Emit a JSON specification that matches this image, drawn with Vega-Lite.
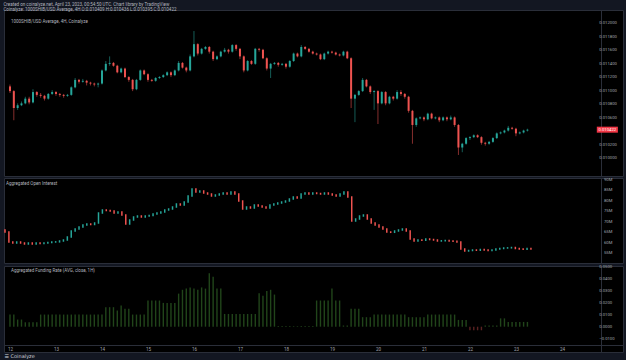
{
"$schema": "https://vega.github.io/schema/vega-lite/v6.json",
"background": "#131722",
"padding": {"left": 3, "right": 4, "top": 1, "bottom": 1},
"spacing": 0,
"title": {"text": ["Created on coinalyze.net, April 23, 2023, 00:54:50 UTC. Chart library by TradingView", "Coinalyze: 1000SHIB/USD Average, 4H  O:0.010409 H:0.010436 L:0.010395 C:0.010422"], "anchor": "start", "frame": "bounds", "fontSize": 4.5, "lineHeight": 5, "color": "#b2b5be", "font": "Roboto", "fontWeight": "normal", "offset": -1.5},
"config": {
  "view": {"fill": "#000000", "stroke": "#2a2e39", "strokeWidth": 1},
  "axis": {"labelFont": "Roboto", "labelColor": "#a3a6af", "domainColor": "#2a2e39", "ticks": false, "grid": false, "title": null, "labelOverlap": false},
  "text": {"font": "Roboto", "fontSize": 4.5, "color": "#b2b5be", "align": "left", "baseline": "top"}
},
"datasets": {"d": [
{"t":0,"o":0.011065,"h":0.011093,"l":0.010967,"c":0.010995,"oo":66.10,"oc":65.14,"f":0.0102},
{"t":2,"o":0.010995,"h":0.011009,"l":0.010562,"c":0.010744,"oo":65.14,"oc":60.38,"f":0.0102},
{"t":4,"o":0.010744,"h":0.010813,"l":0.010716,"c":0.010785,"oo":60.38,"oc":59.90,"f":0.006},
{"t":6,"o":0.010785,"h":0.010841,"l":0.010772,"c":0.010813,"oo":59.90,"oc":60.38,"f":0.006},
{"t":8,"o":0.010813,"h":0.010911,"l":0.010799,"c":0.010883,"oo":60.38,"oc":59.90,"f":0.0037},
{"t":10,"o":0.010883,"h":0.010911,"l":0.010799,"c":0.010827,"oo":59.90,"oc":59.43,"f":0.0037},
{"t":12,"o":0.010827,"h":0.011023,"l":0.010813,"c":0.010981,"oo":59.43,"oc":59.90,"f":0.0037},
{"t":14,"o":0.010981,"h":0.010995,"l":0.010911,"c":0.010939,"oo":59.90,"oc":59.43,"f":0.0037},
{"t":16,"o":0.010939,"h":0.010967,"l":0.010897,"c":0.010925,"oo":59.43,"oc":59.90,"f":0.0102},
{"t":18,"o":0.010925,"h":0.010939,"l":0.010855,"c":0.010883,"oo":59.90,"oc":59.67,"f":0.0102},
{"t":20,"o":0.010883,"h":0.010967,"l":0.010869,"c":0.010953,"oo":59.67,"oc":59.90,"f":0.0102},
{"t":22,"o":0.010953,"h":0.011009,"l":0.010939,"c":0.010981,"oo":59.90,"oc":60.14,"f":0.0102},
{"t":24,"o":0.010981,"h":0.010995,"l":0.010925,"c":0.010953,"oo":60.14,"oc":60.38,"f":0.0102},
{"t":26,"o":0.010953,"h":0.010967,"l":0.010911,"c":0.010939,"oo":60.38,"oc":60.45,"f":0.0102},
{"t":28,"o":0.010939,"h":0.010953,"l":0.010897,"c":0.010925,"oo":60.45,"oc":60.86,"f":0.0102},
{"t":30,"o":0.010925,"h":0.010953,"l":0.010911,"c":0.010939,"oo":60.86,"oc":61.33,"f":0.0102},
{"t":32,"o":0.010939,"h":0.011065,"l":0.010925,"c":0.011051,"oo":61.33,"oc":62.76,"f":0.0102},
{"t":34,"o":0.011051,"h":0.011190,"l":0.011037,"c":0.011162,"oo":62.76,"oc":65.62,"f":0.0102},
{"t":36,"o":0.011162,"h":0.011176,"l":0.011107,"c":0.011134,"oo":65.62,"oc":66.57,"f":0.0102},
{"t":38,"o":0.011134,"h":0.011176,"l":0.011121,"c":0.011148,"oo":66.57,"oc":67.52,"f":0.0102},
{"t":40,"o":0.011148,"h":0.011162,"l":0.011079,"c":0.011121,"oo":67.52,"oc":68.48,"f":0.0102},
{"t":42,"o":0.011121,"h":0.011134,"l":0.011079,"c":0.011107,"oo":68.48,"oc":68.95,"f":0.0102},
{"t":44,"o":0.011107,"h":0.011121,"l":0.011065,"c":0.011093,"oo":68.95,"oc":68.71,"f":0.0102},
{"t":46,"o":0.011093,"h":0.011121,"l":0.011051,"c":0.011107,"oo":68.71,"oc":69.43,"f":0.0102},
{"t":48,"o":0.011107,"h":0.011316,"l":0.011093,"c":0.011302,"oo":69.43,"oc":74.19,"f":0.0102},
{"t":50,"o":0.011302,"h":0.011442,"l":0.011288,"c":0.011400,"oo":74.19,"oc":75.62,"f":0.0164},
{"t":52,"o":0.011400,"h":0.011511,"l":0.011372,"c":0.011414,"oo":75.62,"oc":75.38,"f":0.0164},
{"t":54,"o":0.011414,"h":0.011428,"l":0.011358,"c":0.011372,"oo":75.38,"oc":75.14,"f":0.0164},
{"t":56,"o":0.011372,"h":0.011386,"l":0.011260,"c":0.011274,"oo":75.14,"oc":74.19,"f":0.0136},
{"t":58,"o":0.011274,"h":0.011344,"l":0.011260,"c":0.011330,"oo":74.19,"oc":74.67,"f":0.0178},
{"t":60,"o":0.011330,"h":0.011344,"l":0.011190,"c":0.011204,"oo":74.67,"oc":73.24,"f":0.015},
{"t":62,"o":0.011204,"h":0.011218,"l":0.011134,"c":0.011162,"oo":73.24,"oc":68.95,"f":0.015},
{"t":64,"o":0.011162,"h":0.011176,"l":0.010995,"c":0.011023,"oo":68.95,"oc":70.86,"f":0.0102},
{"t":66,"o":0.011023,"h":0.011176,"l":0.011009,"c":0.011162,"oo":70.86,"oc":72.29,"f":0.0102},
{"t":68,"o":0.011162,"h":0.011316,"l":0.011148,"c":0.011302,"oo":72.29,"oc":72.76,"f":0.0102},
{"t":70,"o":0.011302,"h":0.011316,"l":0.011232,"c":0.011246,"oo":72.76,"oc":72.29,"f":0.0102},
{"t":72,"o":0.011246,"h":0.011260,"l":0.011134,"c":0.011162,"oo":72.29,"oc":72.76,"f":0.022},
{"t":74,"o":0.011162,"h":0.011176,"l":0.011134,"c":0.011148,"oo":72.76,"oc":73.00,"f":0.022},
{"t":76,"o":0.011148,"h":0.011204,"l":0.011134,"c":0.011190,"oo":73.00,"oc":73.71,"f":0.022},
{"t":78,"o":0.011190,"h":0.011218,"l":0.011176,"c":0.011204,"oo":73.71,"oc":74.19,"f":0.022},
{"t":80,"o":0.011204,"h":0.011246,"l":0.011190,"c":0.011232,"oo":74.19,"oc":74.67,"f":0.020},
{"t":82,"o":0.011232,"h":0.011288,"l":0.011218,"c":0.011274,"oo":74.67,"oc":75.62,"f":0.020},
{"t":84,"o":0.011274,"h":0.011288,"l":0.011204,"c":0.011232,"oo":75.62,"oc":76.10,"f":0.020},
{"t":86,"o":0.011232,"h":0.011316,"l":0.011218,"c":0.011302,"oo":76.10,"oc":77.05,"f":0.020},
{"t":88,"o":0.011302,"h":0.011442,"l":0.011288,"c":0.011414,"oo":77.05,"oc":78.48,"f":0.0278},
{"t":90,"o":0.011414,"h":0.011428,"l":0.011330,"c":0.011344,"oo":78.48,"oc":78.00,"f":0.031},
{"t":92,"o":0.011344,"h":0.011358,"l":0.011274,"c":0.011302,"oo":78.00,"oc":79.43,"f":0.032},
{"t":94,"o":0.011302,"h":0.011539,"l":0.011288,"c":0.011511,"oo":79.43,"oc":82.29,"f":0.033},
{"t":96,"o":0.011511,"h":0.011888,"l":0.011497,"c":0.011693,"oo":82.29,"oc":85.62,"f":0.032},
{"t":98,"o":0.011693,"h":0.011707,"l":0.011525,"c":0.011553,"oo":85.62,"oc":84.19,"f":0.031},
{"t":100,"o":0.011553,"h":0.011637,"l":0.011539,"c":0.011623,"oo":84.19,"oc":84.67,"f":0.033},
{"t":102,"o":0.011623,"h":0.011665,"l":0.011609,"c":0.011651,"oo":84.67,"oc":83.71,"f":0.032},
{"t":104,"o":0.011651,"h":0.011665,"l":0.011553,"c":0.011581,"oo":83.71,"oc":83.24,"f":0.045},
{"t":106,"o":0.011581,"h":0.011595,"l":0.011442,"c":0.011470,"oo":83.24,"oc":82.29,"f":0.042},
{"t":108,"o":0.011470,"h":0.011525,"l":0.011456,"c":0.011511,"oo":82.29,"oc":82.76,"f":0.032},
{"t":110,"o":0.011511,"h":0.011595,"l":0.011497,"c":0.011581,"oo":82.76,"oc":83.24,"f":0.032},
{"t":112,"o":0.011581,"h":0.011637,"l":0.011567,"c":0.011609,"oo":83.24,"oc":83.71,"f":0.0107},
{"t":114,"o":0.011609,"h":0.011623,"l":0.011553,"c":0.011581,"oo":83.71,"oc":83.24,"f":0.0107},
{"t":116,"o":0.011581,"h":0.011693,"l":0.011567,"c":0.011679,"oo":83.24,"oc":84.19,"f":0.0107},
{"t":118,"o":0.011679,"h":0.011693,"l":0.011595,"c":0.011623,"oo":84.19,"oc":83.24,"f":0.0107},
{"t":120,"o":0.011623,"h":0.011637,"l":0.011470,"c":0.011511,"oo":83.24,"oc":79.90,"f":0.0107},
{"t":122,"o":0.011511,"h":0.011525,"l":0.011274,"c":0.011302,"oo":79.90,"oc":76.10,"f":0.0107},
{"t":124,"o":0.011302,"h":0.011456,"l":0.011288,"c":0.011442,"oo":76.10,"oc":77.05,"f":0.0107},
{"t":126,"o":0.011442,"h":0.011456,"l":0.011386,"c":0.011400,"oo":77.05,"oc":76.57,"f":0.0107},
{"t":128,"o":0.011400,"h":0.011637,"l":0.011386,"c":0.011623,"oo":76.57,"oc":78.00,"f":0.0107},
{"t":130,"o":0.011623,"h":0.011637,"l":0.011581,"c":0.011609,"oo":78.00,"oc":77.52,"f":0.028},
{"t":132,"o":0.011609,"h":0.011623,"l":0.011470,"c":0.011483,"oo":77.52,"oc":77.05,"f":0.026},
{"t":134,"o":0.011483,"h":0.011497,"l":0.011302,"c":0.011330,"oo":77.05,"oc":76.57,"f":0.030},
{"t":136,"o":0.011330,"h":0.011414,"l":0.011190,"c":0.011400,"oo":76.57,"oc":78.00,"f":0.031},
{"t":138,"o":0.011400,"h":0.011428,"l":0.011386,"c":0.011414,"oo":78.00,"oc":78.48,"f":0.027},
{"t":140,"o":0.011414,"h":0.011428,"l":0.011358,"c":0.011386,"oo":78.48,"oc":78.95,"f":0.0005},
{"t":142,"o":0.011386,"h":0.011414,"l":0.011372,"c":0.011400,"oo":78.95,"oc":79.43,"f":0.0005},
{"t":144,"o":0.011400,"h":0.011414,"l":0.011330,"c":0.011358,"oo":79.43,"oc":79.90,"f":0.0005},
{"t":146,"o":0.011358,"h":0.011456,"l":0.011344,"c":0.011442,"oo":79.90,"oc":80.86,"f":0.0005},
{"t":148,"o":0.011442,"h":0.011567,"l":0.011428,"c":0.011553,"oo":80.86,"oc":81.81,"f":0.0005},
{"t":150,"o":0.011553,"h":0.011567,"l":0.011497,"c":0.011511,"oo":81.81,"oc":81.33,"f":0.0005},
{"t":152,"o":0.011511,"h":0.011679,"l":0.011497,"c":0.011651,"oo":81.33,"oc":83.24,"f":0.0005},
{"t":154,"o":0.011651,"h":0.011665,"l":0.011609,"c":0.011623,"oo":83.24,"oc":83.71,"f":0.0005},
{"t":156,"o":0.011623,"h":0.011637,"l":0.011567,"c":0.011581,"oo":83.71,"oc":83.24,"f":0.0005},
{"t":158,"o":0.011581,"h":0.011595,"l":0.011539,"c":0.011553,"oo":83.24,"oc":83.71,"f":0.0005},
{"t":160,"o":0.011553,"h":0.011567,"l":0.011525,"c":0.011539,"oo":83.71,"oc":83.48,"f":0.022},
{"t":162,"o":0.011539,"h":0.011553,"l":0.011456,"c":0.011470,"oo":83.48,"oc":83.24,"f":0.022},
{"t":164,"o":0.011470,"h":0.011567,"l":0.011456,"c":0.011553,"oo":83.24,"oc":83.71,"f":0.022},
{"t":166,"o":0.011553,"h":0.011595,"l":0.011539,"c":0.011581,"oo":83.71,"oc":83.24,"f":0.022},
{"t":168,"o":0.011581,"h":0.011595,"l":0.011553,"c":0.011567,"oo":83.24,"oc":82.76,"f":0.032},
{"t":170,"o":0.011567,"h":0.011581,"l":0.011525,"c":0.011539,"oo":82.76,"oc":82.29,"f":0.022},
{"t":172,"o":0.011539,"h":0.011553,"l":0.011511,"c":0.011525,"oo":82.29,"oc":83.24,"f":0.022},
{"t":174,"o":0.011525,"h":0.011595,"l":0.011511,"c":0.011581,"oo":83.24,"oc":84.19,"f":0.001},
{"t":176,"o":0.011581,"h":0.011595,"l":0.011470,"c":0.011483,"oo":84.19,"oc":81.81,"f":0.001},
{"t":178,"o":0.011483,"h":0.011497,"l":0.010744,"c":0.010883,"oo":81.81,"oc":70.38,"f":0.015},
{"t":180,"o":0.010883,"h":0.010953,"l":0.010534,"c":0.010939,"oo":70.38,"oc":71.33,"f":0.015},
{"t":182,"o":0.010939,"h":0.011009,"l":0.010925,"c":0.010995,"oo":71.33,"oc":72.76,"f":0.015},
{"t":184,"o":0.010995,"h":0.011190,"l":0.010981,"c":0.011162,"oo":72.76,"oc":73.24,"f":0.008},
{"t":186,"o":0.011162,"h":0.011176,"l":0.011051,"c":0.011065,"oo":73.24,"oc":71.33,"f":0.008},
{"t":188,"o":0.011065,"h":0.011079,"l":0.010953,"c":0.010981,"oo":71.33,"oc":69.43,"f":0.008},
{"t":190,"o":0.010981,"h":0.011009,"l":0.010716,"c":0.010995,"oo":69.43,"oc":68.48,"f":0.0102},
{"t":192,"o":0.010995,"h":0.011009,"l":0.010506,"c":0.010813,"oo":68.48,"oc":67.52,"f":0.0102},
{"t":194,"o":0.010813,"h":0.010995,"l":0.010799,"c":0.010981,"oo":67.52,"oc":66.57,"f":0.0102},
{"t":196,"o":0.010981,"h":0.010995,"l":0.010785,"c":0.010813,"oo":66.57,"oc":65.14,"f":0.0102},
{"t":198,"o":0.010813,"h":0.010925,"l":0.010799,"c":0.010911,"oo":65.14,"oc":65.00,"f":0.0102},
{"t":200,"o":0.010911,"h":0.010925,"l":0.010855,"c":0.010883,"oo":65.00,"oc":65.62,"f":0.0102},
{"t":202,"o":0.010883,"h":0.011009,"l":0.010869,"c":0.010981,"oo":65.62,"oc":66.10,"f":0.0102},
{"t":204,"o":0.010981,"h":0.011009,"l":0.010925,"c":0.010953,"oo":66.10,"oc":66.57,"f":0.0102},
{"t":206,"o":0.010953,"h":0.010967,"l":0.010883,"c":0.010911,"oo":66.57,"oc":65.62,"f":0.0102},
{"t":208,"o":0.010911,"h":0.010925,"l":0.010674,"c":0.010702,"oo":65.62,"oc":61.81,"f":0.008},
{"t":210,"o":0.010702,"h":0.010716,"l":0.010213,"c":0.010492,"oo":61.81,"oc":60.86,"f":0.008},
{"t":212,"o":0.010492,"h":0.010604,"l":0.010464,"c":0.010590,"oo":60.86,"oc":61.33,"f":0.008},
{"t":214,"o":0.010590,"h":0.010618,"l":0.010576,"c":0.010604,"oo":61.33,"oc":61.20,"f":0.008},
{"t":216,"o":0.010604,"h":0.010618,"l":0.010548,"c":0.010576,"oo":61.20,"oc":61.81,"f":0.008},
{"t":218,"o":0.010576,"h":0.010674,"l":0.010562,"c":0.010660,"oo":61.81,"oc":61.57,"f":0.0102},
{"t":220,"o":0.010660,"h":0.010674,"l":0.010576,"c":0.010590,"oo":61.57,"oc":61.33,"f":0.0102},
{"t":222,"o":0.010590,"h":0.010618,"l":0.010576,"c":0.010604,"oo":61.33,"oc":60.86,"f":0.0102},
{"t":224,"o":0.010604,"h":0.010618,"l":0.010534,"c":0.010562,"oo":60.86,"oc":60.95,"f":0.0102},
{"t":226,"o":0.010562,"h":0.010618,"l":0.010548,"c":0.010604,"oo":60.95,"oc":61.10,"f":0.0102},
{"t":228,"o":0.010604,"h":0.010618,"l":0.010548,"c":0.010576,"oo":61.10,"oc":60.86,"f":0.0102},
{"t":230,"o":0.010576,"h":0.010632,"l":0.010562,"c":0.010604,"oo":60.86,"oc":60.75,"f":0.0102},
{"t":232,"o":0.010604,"h":0.010618,"l":0.010464,"c":0.010492,"oo":60.75,"oc":60.38,"f":0.0102},
{"t":234,"o":0.010492,"h":0.010506,"l":0.010046,"c":0.010157,"oo":60.38,"oc":57.05,"f":0.0057},
{"t":236,"o":0.010157,"h":0.010227,"l":0.010087,"c":0.010213,"oo":57.05,"oc":56.10,"f":0.0057},
{"t":238,"o":0.010213,"h":0.010311,"l":0.010199,"c":0.010297,"oo":56.10,"oc":56.33,"f":0.0057},
{"t":240,"o":0.010297,"h":0.010325,"l":0.010269,"c":0.010311,"oo":56.33,"oc":56.57,"f":-0.003},
{"t":242,"o":0.010311,"h":0.010353,"l":0.010297,"c":0.010339,"oo":56.57,"oc":56.45,"f":-0.003},
{"t":244,"o":0.010339,"h":0.010353,"l":0.010297,"c":0.010311,"oo":56.45,"oc":56.81,"f":-0.003},
{"t":246,"o":0.010311,"h":0.010325,"l":0.010199,"c":0.010227,"oo":56.81,"oc":56.57,"f":-0.003},
{"t":248,"o":0.010227,"h":0.010241,"l":0.010185,"c":0.010213,"oo":56.57,"oc":56.33,"f":0.001},
{"t":250,"o":0.010213,"h":0.010255,"l":0.010199,"c":0.010241,"oo":56.33,"oc":56.57,"f":0.001},
{"t":252,"o":0.010241,"h":0.010311,"l":0.010227,"c":0.010297,"oo":56.57,"oc":57.05,"f":0.001},
{"t":254,"o":0.010297,"h":0.010381,"l":0.010283,"c":0.010367,"oo":57.05,"oc":57.29,"f":0.001},
{"t":256,"o":0.010367,"h":0.010395,"l":0.010353,"c":0.010381,"oo":57.29,"oc":57.52,"f":0.007},
{"t":258,"o":0.010381,"h":0.010422,"l":0.010367,"c":0.010409,"oo":57.52,"oc":57.60,"f":0.007},
{"t":260,"o":0.010409,"h":0.010478,"l":0.010395,"c":0.010450,"oo":57.60,"oc":57.76,"f":0.004},
{"t":262,"o":0.010450,"h":0.010464,"l":0.010422,"c":0.010436,"oo":57.76,"oc":57.29,"f":0.004},
{"t":264,"o":0.010436,"h":0.010450,"l":0.010325,"c":0.010367,"oo":57.29,"oc":57.05,"f":0.004},
{"t":266,"o":0.010367,"h":0.010395,"l":0.010353,"c":0.010381,"oo":57.05,"oc":56.95,"f":0.004},
{"t":268,"o":0.010381,"h":0.010422,"l":0.010367,"c":0.010409,"oo":56.95,"oc":57.29,"f":0.004},
{"t":270,"o":0.010409,"h":0.010436,"l":0.010395,"c":0.010422,"oo":57.29,"oc":57.05,"f":0.004}
],
"pticks": [{"v":0.0100},{"v":0.0102},{"v":0.0106},{"v":0.0108},{"v":0.0110},{"v":0.0112},{"v":0.0114},{"v":0.0116},{"v":0.0118},{"v":0.0120}],
"oticks": [{"v":55,"lab":"55M"},{"v":60,"lab":"60M"},{"v":65,"lab":"65M"},{"v":70,"lab":"70M"},{"v":75,"lab":"75M"},{"v":80,"lab":"80M"},{"v":85,"lab":"85M"},{"v":90,"lab":"90M"}],
"fticks": [{"v":-0.01},{"v":0},{"v":0.01},{"v":0.02},{"v":0.03},{"v":0.04},{"v":0.05}]
},
"vconcat": [
{
  "width": 619, "height": 166,
  "data": {"name": "d"},
  "layer": [
    {"mark": {"type": "rule", "strokeWidth": 0.8, "opacity": 0.7},
     "encoding": {
       "x": {"field": "t", "type": "quantitative", "scale": {"domain": [-0.513, 317.26], "nice": false, "zero": false}, "axis": null},
       "y": {"field": "l", "type": "quantitative", "scale": {"domain": [0.009808, 0.012126], "nice": false, "zero": false},
             "axis": {"orient": "right", "offset": -22, "labels": false, "values": []}},
       "y2": {"field": "h"},
       "color": {"condition": {"test": "datum.c >= datum.o", "value": "#26a69a"}, "value": "#ef5350"}
     }},
    {"mark": {"type": "bar", "size": 2.0},
     "encoding": {
       "x": {"field": "t", "type": "quantitative"},
       "y": {"field": "o", "type": "quantitative"},
       "y2": {"field": "c"},
       "color": {"condition": {"test": "datum.c >= datum.o", "value": "#26a69a"}, "value": "#ef5350"}
     }},
    {"data": {"name": "pticks"},
     "mark": {"type": "text", "fontSize": 4.2, "color": "#a3a6af", "baseline": "middle"},
     "encoding": {
       "x": {"datum": 307.5, "type": "quantitative"},
       "y": {"field": "v", "type": "quantitative"},
       "text": {"field": "v", "type": "quantitative", "format": ".6f"}
     }},
    {"transform": [{"filter": "datum.t == 270"}],
     "mark": {"type": "bar", "size": 6, "color": "#f23645"},
     "encoding": {
       "x": {"datum": 306.2, "type": "quantitative"},
       "x2": {"datum": 317.2},
       "y": {"field": "c", "type": "quantitative"}
     }},
    {"transform": [{"filter": "datum.t == 270"}],
     "mark": {"type": "text", "color": "#ffffff", "fontSize": 4.2, "align": "center", "baseline": "middle"},
     "encoding": {
       "x": {"datum": 311.7, "type": "quantitative"},
       "y": {"field": "c", "type": "quantitative"},
       "text": {"field": "c", "type": "quantitative", "format": ".6f"}
     }},
    {"data": {"values": [{"label": "1000SHIB/USD Average, 4H, Coinalyze"}]},
     "mark": {"type": "text", "dx": 2, "dy": 3.5},
     "encoding": {
       "x": {"datum": -0.513, "type": "quantitative"},
       "y": {"datum": 0.012126, "type": "quantitative"},
       "text": {"field": "label"}
     }}
  ]
},
{
  "width": 619, "height": 85,
  "data": {"name": "d"},
  "layer": [
    {"mark": {"type": "rule", "strokeWidth": 1.5, "strokeCap": "square"},
     "encoding": {
       "x": {"field": "t", "type": "quantitative", "scale": {"domain": [-0.513, 317.26], "nice": false, "zero": false}, "axis": null},
       "y": {"field": "oo", "type": "quantitative", "scale": {"domain": [50.38, 90.86], "nice": false, "zero": false},
             "axis": {"orient": "right", "offset": -22, "labels": false, "values": []}},
       "y2": {"field": "oc"},
       "color": {"condition": {"test": "datum.oc >= datum.oo", "value": "#26a69a"}, "value": "#ef5350"}
     }},
    {"data": {"name": "oticks"},
     "mark": {"type": "text", "fontSize": 4.2, "color": "#a3a6af", "baseline": "middle"},
     "encoding": {
       "x": {"datum": 307.5, "type": "quantitative"},
       "y": {"field": "v", "type": "quantitative"},
       "text": {"field": "lab"}
     }},
    {"data": {"values": [{"label": "Aggregated Open Interest"}]},
     "mark": {"type": "text", "dx": 2, "dy": 3},
     "encoding": {
       "x": {"datum": -0.513, "type": "quantitative"},
       "y": {"datum": 90.86, "type": "quantitative"},
       "text": {"field": "label"}
     }}
  ]
},
{
  "width": 619, "height": 86,
  "data": {"name": "d"},
  "layer": [
    {"mark": {"type": "bar", "size": 1.4},
     "encoding": {
       "x": {"field": "t", "type": "quantitative", "scale": {"domain": [-0.513, 317.26], "nice": false, "zero": false},
             "axis": {"orient": "bottom", "offset": -7, "labelPadding": 1.5, "labelFontSize": 4.5, "labelOverlap": false, "labelFlush": true, "values": [0, 24, 48, 72, 96, 120, 144, 168, 192, 216, 240, 264, 288], "labelExpr": "toString(12 + datum.value / 24)", "title": "☰ Coinalyze", "titleAnchor": "start", "titleFontSize": 5, "titleColor": "#d1d4dc", "titleFont": "DejaVu Sans", "titleFontWeight": "normal", "titlePadding": 2}},
       "y": {"field": "f", "type": "quantitative", "scale": {"domain": [-0.02126, 0.0510], "nice": false, "zero": false},
             "axis": {"orient": "right", "offset": -22, "labels": false, "values": []}},
       "color": {"condition": {"test": "datum.f >= 0", "value": "#21451a"}, "value": "#5a2222"}
     }},
    {"data": {"name": "fticks"},
     "mark": {"type": "text", "fontSize": 4.2, "color": "#a3a6af", "baseline": "middle"},
     "encoding": {
       "x": {"datum": 307.5, "type": "quantitative"},
       "y": {"field": "v", "type": "quantitative"},
       "text": {"field": "v", "type": "quantitative", "format": ".4f"}
     }},
    {"data": {"values": [{"label": "Aggregated Funding Rate (AVG, close, 1H)"}]},
     "mark": {"type": "text", "dx": 2, "dy": 2},
     "encoding": {
       "x": {"datum": -0.513, "type": "quantitative"},
       "y": {"datum": 0.0510, "type": "quantitative"},
       "text": {"field": "label"}
     }}
  ]
}
]
}
